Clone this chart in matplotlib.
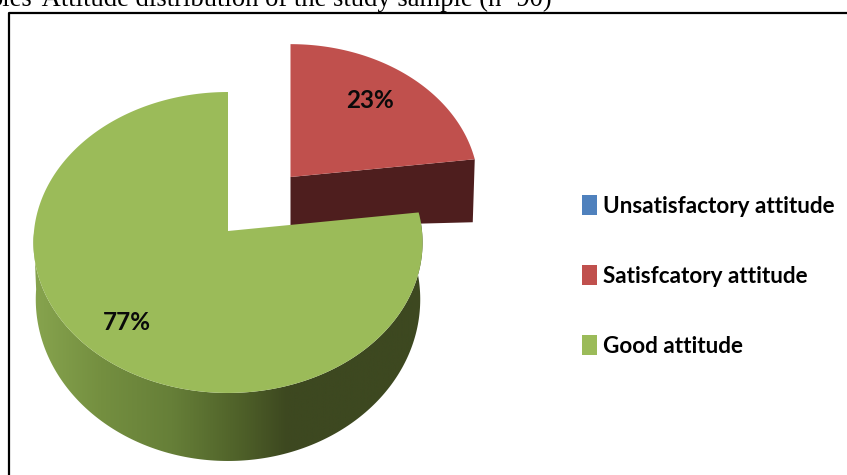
import numpy as np
import matplotlib
matplotlib.use("Agg")
import matplotlib.pyplot as plt
from matplotlib.colors import LinearSegmentedColormap
from matplotlib.patches import Patch, Polygon

# ---- data ----
categories = ["Unsatisfactory attitude", "Satisfcatory attitude", "Good attitude"]
values = [0, 23, 77]
value_labels = ["", "23%", "77%"]
colors = ["#4f81bd", "#c0504d", "#9bbb59"]
title = "bles' Attitude distribution of the study sample (n=90)"

W, H = 847, 475
cond = "Lato"

fig = plt.figure(figsize=(W / 100, H / 100), dpi=100, facecolor="white")
ax = fig.add_axes([0, 0, 1, 1])
ax.set_xlim(0, W)
ax.set_ylim(H, 0)
ax.axis("off")

# frame (only top and left are visible in the crop)
ax.plot([8.5, 8.5, W], [H, 12.5, 12.5], color="black", lw=1.6, solid_capstyle="butt", zorder=1)
ax.text(552, 6, title, family="Liberation Serif", fontsize=19.15, ha="right", va="baseline", zorder=5)

K = 0.0763  # perspective of the pie plane


def rim(cx, cy, R, B, t):
    """Project pie angles (radians) to picture coordinates."""
    w = 1 + K * np.sin(t)
    return cx + R * np.cos(t) / w, cy - B * np.sin(t) / w


# angles from the values: pie starts at 12 o'clock, runs counter-clockwise
shares = np.array(values[::-1], dtype=float)   # Good first, then Satisfactory, Unsatisfactory
edges = np.pi / 2 + np.cumsum(np.r_[0, shares]) / shares.sum() * 2 * np.pi
good_a, good_b = edges[0], edges[1]
sat_a, sat_b = edges[1], edges[2]

# --- red slice (pulled out) ---
rc = (290.5, 177, 187.5, 143)
t = np.linspace(sat_a, sat_b, 80)
rx, ry = rim(*rc, t)
ex, ey = rim(*rc, sat_a)
ax.add_patch(Polygon([(rc[0], rc[1]), (ex, ey), (ex - 2, ey + 63), (rc[0], rc[1] + 50)],
                     closed=True, fc="#4e1e1e", ec="none", zorder=2))
ax.add_patch(Polygon(np.r_[[(rc[0], rc[1])], np.c_[rx, ry]], closed=True, fc=colors[1],
                     ec="none", zorder=3))

# --- green slice ---
gc = (228, 231, 194, 149.6)
t = np.linspace(good_a, good_b, 300)
gx, gy = rim(*gc, t)

# outer wall with horizontal gradient
tw = t[t >= np.pi]
top_x, top_y = rim(*gc, tw)
bot_x, bot_y = rim(gc[0], gc[1] + 56, gc[2] * 0.988, 160.7, tw)
wall = Polygon(np.r_[np.c_[top_x, top_y], np.c_[bot_x, bot_y][::-1]], closed=True,
               fc="none", ec="none")
ax.add_patch(wall)
cmap = LinearSegmentedColormap.from_list(
    "wall", [(0.0, "#87a44e"), (0.17, "#748f40"), (0.35, "#667f38"),
             (0.52, "#4f6129"), (0.64, "#3d4820"), (1.0, "#3d4820")])
im = ax.imshow(np.linspace(0, 1, 512)[None, :], cmap=cmap, extent=(33, 430, 470, 200),
               aspect="auto", zorder=3.5)
im.set_clip_path(wall)
ax.set_xlim(0, W)
ax.set_ylim(H, 0)

ax.add_patch(Polygon(np.r_[[(gc[0], gc[1])], np.c_[gx, gy]], closed=True, fc=colors[2],
                     ec="none", zorder=4))

# value labels
ax.text(370, 101, value_labels[1], family=cond, fontweight="bold", fontsize=17.5,
        ha="center", va="center", color="#0a0a0a", zorder=6)
ax.text(127, 322, value_labels[2], family=cond, fontweight="bold", fontsize=17.5,
        ha="center", va="center", color="#0a0a0a", zorder=6)

# legend
handles = [Patch(fc=c, ec="none") for c in colors]
leg = ax.legend(handles, categories, loc="center left", bbox_to_anchor=(582 / W, 1 - 276 / H),
                frameon=False, handlelength=0.67, handleheight=1.0, handletextpad=0.27,
                labelspacing=2.15, borderpad=0, borderaxespad=0,
                prop={"family": cond, "weight": "bold", "size": 16.2})

fig.savefig("out.png", dpi=100, facecolor="white")
